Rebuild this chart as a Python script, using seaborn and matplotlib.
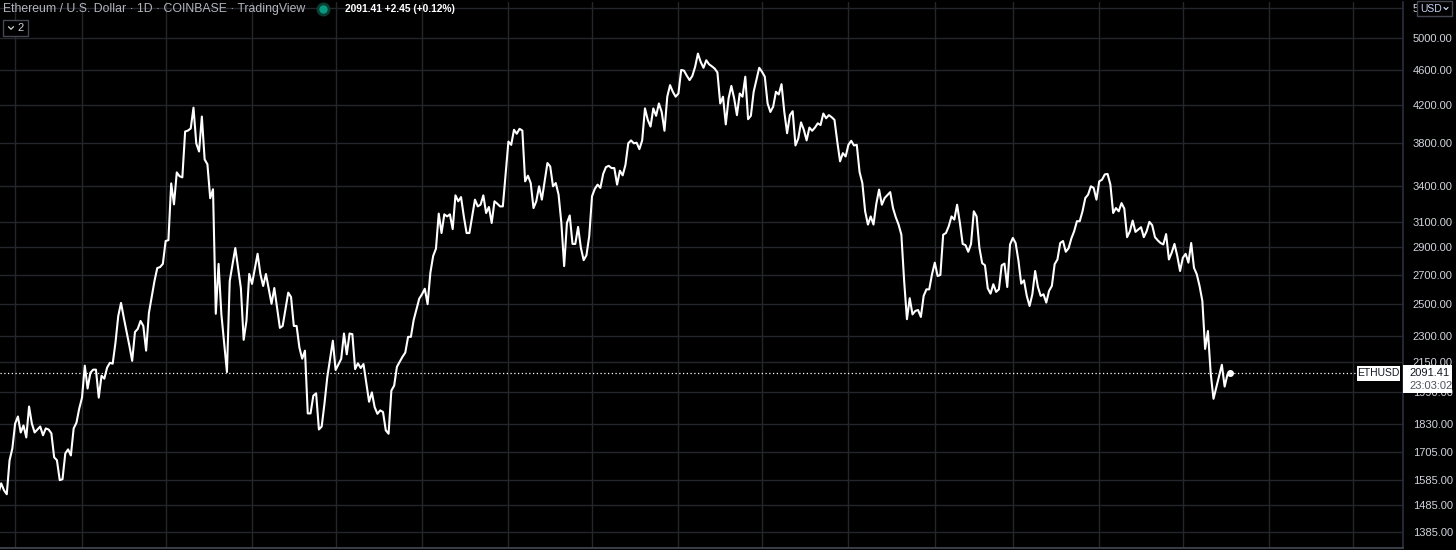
import pandas as pd
import seaborn as sns
import matplotlib.pyplot as plt
from matplotlib.patches import Rectangle
from matplotlib.lines import Line2D
from matplotlib.ticker import NullLocator

# ETH/USD daily closes (Coinbase); day 0 = 2021-03-02
start = pd.Timestamp("2021-03-02")
days = [0, 1, 2, 3, 4, 5, 6, 7, 8, 9, 10, 11, 12, 13, 15, 16, 17, 18, 19, 20,
        21, 22, 23, 24, 25, 26, 27, 28, 29, 30, 31, 32, 33, 34, 35, 36, 37, 38, 39, 40,
        41, 42, 43, 44, 45, 47, 48, 49, 50, 51, 52, 53, 54, 56, 57, 58, 59, 60, 61, 62,
        63, 64, 65, 66, 67, 68, 69, 70, 71, 72, 73, 74, 75, 76, 77, 78, 79, 80, 82, 83,
        85, 87, 88, 89, 90, 91, 93, 94, 95, 96, 98, 99, 101, 102, 104, 105, 106, 107, 108, 109,
        110, 111, 112, 113, 114, 115, 116, 117, 118, 120, 121, 123, 124, 125, 126, 127, 128, 129, 130, 131,
        133, 134, 135, 136, 137, 138, 139, 140, 141, 142, 143, 145, 146, 147, 148, 149, 150, 151, 152, 153,
        154, 155, 156, 157, 158, 159, 160, 161, 162, 163, 164, 165, 166, 167, 168, 169, 170, 171, 172, 173,
        174, 175, 176, 177, 178, 179, 180, 181, 183, 184, 185, 186, 187, 188, 189, 190, 191, 192, 193, 194,
        195, 197, 198, 199, 200, 201, 202, 203, 204, 205, 206, 207, 208, 209, 210, 211, 212, 213, 214, 215,
        216, 217, 218, 219, 220, 221, 222, 223, 224, 225, 226, 227, 228, 229, 230, 231, 232, 233, 234, 235,
        236, 237, 238, 239, 240, 241, 242, 243, 244, 245, 246, 247, 248, 249, 250, 251, 252, 253, 254, 255,
        256, 257, 258, 259, 260, 261, 262, 263, 264, 265, 266, 267, 268, 269, 270, 271, 273, 274, 275, 276,
        277, 278, 279, 280, 281, 282, 283, 284, 285, 286, 287, 288, 289, 290, 291, 292, 293, 294, 295, 296,
        297, 298, 299, 300, 301, 302, 303, 304, 305, 306, 307, 308, 309, 310, 311, 312, 313, 314, 315, 316,
        317, 318, 320, 321, 322, 323, 324, 325, 326, 327, 328, 329, 330, 331, 332, 333, 334, 335, 336, 337,
        338, 339, 340, 341, 342, 343, 344, 345, 346, 347, 348, 349, 350, 351, 352, 353, 354, 355, 356, 357,
        358, 359, 360, 361, 362, 363, 364, 365, 366, 367, 368, 369, 370, 371, 372, 373, 374, 375, 376, 377,
        378, 379, 380, 381, 382, 383, 384, 385, 386, 387, 388, 389, 390, 391, 392, 393, 394, 395, 396, 397,
        398, 399, 400, 401, 402, 403, 404, 405, 406, 407, 408, 409, 410, 411, 412, 413, 414, 415, 416, 417,
        418, 419, 420, 421, 422, 423, 424, 425, 426, 427, 428, 429, 430, 431, 432, 433, 434, 435, 436, 437,
        439, 440, 441, 442]
close = [1530, 1570, 1542, 1526, 1667, 1719, 1834, 1868, 1792, 1825, 1769, 1917, 1834, 1792, 1820, 1779, 1811, 1806, 1788, 1680,
         1667, 1583, 1587, 1697, 1715, 1688, 1811, 1838, 1907, 1962, 2132, 2009, 2093, 2110, 2110, 1962, 2077, 2061, 2121, 2148,
         2143, 2263, 2426, 2510, 2414, 2245, 2159, 2327, 2346, 2395, 2364, 2217, 2445, 2657, 2748, 2755, 2778, 2948, 2955, 3425,
         3243, 3524, 3489, 3479, 3919, 3929, 3950, 4170, 3799, 3721, 4075, 3645, 3599, 3295, 3373, 2440, 2778, 2438, 2097, 2657,
         2895, 2609, 2280, 2395, 2706, 2637, 2852, 2706, 2623, 2706, 2504, 2609, 2352, 2364, 2578, 2549, 2364, 2364, 2235, 2171,
         2217, 1883, 1883, 1972, 1984, 1806, 1820, 1932, 2068, 2275, 2108, 2170, 2318, 2196, 2318, 2314, 2113, 2145, 2119, 2141,
         1941, 1989, 1914, 1881, 1898, 1890, 1802, 1786, 1998, 2024, 2126, 2182, 2206, 2298, 2298, 2400, 2469, 2538, 2567, 2604,
         2502, 2715, 2836, 2890, 3166, 3010, 3160, 3143, 3160, 3041, 3320, 3269, 3305, 3143, 3010, 3010, 3143, 3283, 3226, 3240,
         3320, 3171, 3221, 3090, 3269, 3249, 3226, 3226, 3818, 3786, 3937, 3897, 3947, 3929, 3443, 3494, 3428, 3212, 3269, 3399,
         3283, 3611, 3579, 3399, 3428, 3326, 3090, 2762, 3090, 3151, 2926, 2926, 3058, 2897, 2805, 2841, 2986, 3312, 3376, 3414,
         3385, 3510, 3573, 3585, 3564, 3564, 3414, 3540, 3497, 3594, 3801, 3830, 3801, 3807, 3744, 3830, 4162, 4040, 3970, 4162,
         4083, 4216, 4124, 3927, 4291, 4422, 4346, 4291, 4327, 4600, 4592, 4532, 4480, 4529, 4638, 4800, 4697, 4626, 4717, 4668,
         4644, 4617, 4570, 4216, 4291, 3993, 4272, 4413, 4272, 4090, 4327, 4291, 4520, 4047, 4083, 4346, 4626, 4578, 4520, 4216,
         4124, 4181, 4346, 4316, 4433, 4124, 3902, 4090, 4132, 3780, 3848, 4014, 3937, 3830, 3960, 3927, 3960, 4004, 3986, 4107,
         4057, 4090, 4068, 4040, 3818, 3627, 3705, 3673, 3786, 3826, 3780, 3786, 3528, 3428, 3185, 3077, 3143, 3077, 3246, 3370,
         3240, 3297, 3348, 3212, 3136, 3077, 2997, 2657, 2406, 2541, 2436, 2458, 2464, 2420, 2556, 2600, 2600, 2704, 2787, 2692,
         2699, 2997, 3010, 3064, 3143, 3117, 3240, 3090, 2926, 2917, 2867, 2926, 3185, 3143, 2897, 2783, 2768, 2607, 2571, 2635,
         2583, 2600, 2768, 2780, 2616, 2922, 2972, 2933, 2803, 2639, 2662, 2556, 2490, 2567, 2727, 2616, 2556, 2567, 2512, 2590,
         2623, 2776, 2810, 2933, 2948, 2867, 2893, 2968, 3024, 3104, 3104, 3185, 3297, 3326, 3399, 3385, 3283, 3443, 3458, 3506,
         3510, 3414, 3171, 3212, 3185, 3254, 3207, 2978, 3024, 3109, 3019, 3037, 3056, 2978, 3024, 3099, 3072, 2978, 2953, 2933,
         2922, 3002, 2810, 2860, 2926, 2836, 2727, 2822, 2852, 2787, 2933, 2750, 2704, 2623, 2523, 2227, 2333, 2089, 1956, 2015,
         2137, 2019, 2083, 2091.41]

price_ticks = [1385, 1485, 1585, 1705, 1830, 1990, 2150, 2300, 2500, 2700,
               2900, 3100, 3400, 3800, 4200, 4600, 5000, 5400]
# the 5400 label is hidden behind the currency button, only its first digit shows
tick_labels = [f"{v:.2f}" for v in price_ticks[:-1]] + ["5"]
last_price = 2091.41
change_text = "+2.45 (+0.12%)"
countdown = "23:03:02"
symbol = "ETHUSD"
title = "Ethereum / U.S. Dollar · 1D · COINBASE · TradingView"

df = pd.DataFrame({"date": start + pd.to_timedelta(days, unit="D"), "close": close})

sns.set_theme(style="dark")
plt.rcParams["font.family"] = ["Liberation Sans", "DejaVu Sans"]

W, H = 1456, 550
fig = plt.figure(figsize=(W / 100, H / 100), dpi=100, facecolor="black")
ax = fig.add_axes([0, 2 / H, 1403 / W, 546 / H])
ax.set_facecolor("black")

sns.lineplot(data=df, x="date", y="close", ax=ax, color="white", linewidth=1.5)
ax.plot(df["date"].iloc[-1], df["close"].iloc[-1], "o", color="white", ms=4)
ax.axhline(last_price, xmax=1357 / 1403, color="white", lw=0.9, ls=(0, (1, 2)))

ax.set_yscale("log")
ax.set_ylim(1327, 5489)
ax.set_xlim(start + pd.Timedelta(days=0.57), start + pd.Timedelta(days=504))

# y axis on the right, like TradingView
ax.yaxis.tick_right()
ax.yaxis.set_minor_locator(NullLocator())
ax.set_yticks(price_ticks)
ax.set_yticklabels(tick_labels)
ax.tick_params(axis="y", length=0, pad=7, labelcolor="#d1d4dc", labelsize=8)

month_lines = [pd.Timestamp("2021-03-08")] + list(pd.date_range("2021-04-01", "2022-07-01", freq="MS"))
ax.set_xticks(month_lines)
ax.tick_params(axis="x", length=0, labelbottom=False)
ax.grid(True, color="#24262d", linewidth=1)
ax.set_xlabel("")
ax.set_ylabel("")

for side in ["top", "left"]:
    ax.spines[side].set_visible(False)
ax.spines["right"].set_color("#2a2e39")
ax.spines["bottom"].set_color("#434651")


def px(x, y):
    return x / W, 1 - y / H


def chevron(x, y, w, h, color):
    xs = [(x - w / 2) / W, x / W, (x + w / 2) / W]
    ys = [1 - (y - h / 2) / H, 1 - (y + h / 2) / H, 1 - (y - h / 2) / H]
    fig.add_artist(Line2D(xs, ys, color=color, lw=0.9, transform=fig.transFigure))


# header
fig.text(*px(3, 9), title, color="#b2b5be", fontsize=8.8, va="center", ha="left")
fig.add_artist(Line2D([323 / W], [1 - 9 / H], marker="o", ms=9, color="#0b3d33",
                      transform=fig.transFigure))
fig.add_artist(Line2D([323 / W], [1 - 9 / H], marker="o", ms=5, color="#089981",
                      transform=fig.transFigure))
fig.text(*px(345, 9), f"{last_price:.2f} {change_text}", color="white", fontsize=7.4,
         fontweight="bold", va="center", ha="left")
fig.add_artist(Rectangle(px(3, 36), 25 / W, 16 / H, transform=fig.transFigure,
                         facecolor="black", edgecolor="#434651", lw=1))
chevron(11, 28, 5, 2.5, "#d1d4dc")
fig.text(*px(17, 28), "2", color="#d1d4dc", fontsize=8, va="center", ha="left")

# currency button
fig.add_artist(Rectangle(px(1417, 16), 35 / W, 15 / H, transform=fig.transFigure,
                         facecolor="black", edgecolor="#434651", lw=1))
fig.text(*px(1420, 8.5), "USD", color="#c9d4f5", fontsize=7.5, va="center", ha="left")
chevron(1446, 8.5, 4, 2, "#c9d4f5")

# price labels
fig.add_artist(Rectangle(px(1357, 381), 43 / W, 15 / H, transform=fig.transFigure,
                         facecolor="white", edgecolor="none"))
fig.text(*px(1378.5, 373.5), symbol, color="#131722", fontsize=7.5, va="center", ha="center")
fig.add_artist(Rectangle(px(1403, 393), 49 / W, 28 / H, transform=fig.transFigure,
                         facecolor="white", edgecolor="none"))
fig.text(*px(1409, 372.5), f"{last_price:.2f}", color="#131722", fontsize=8, va="center")
fig.text(*px(1409, 386), countdown, color="#50535e", fontsize=8, va="center")

fig.savefig("out.png", dpi=100, facecolor="black")
